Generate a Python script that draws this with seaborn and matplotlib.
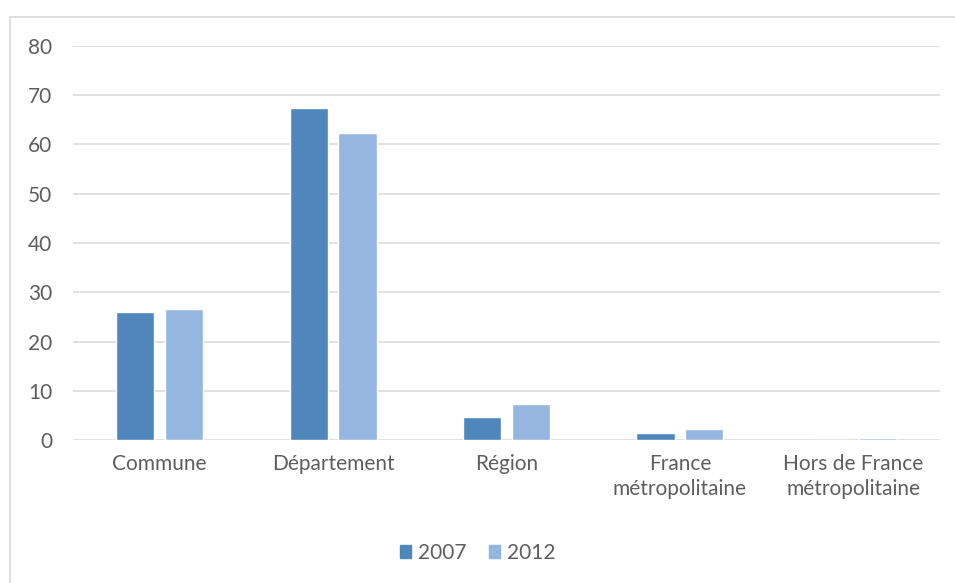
import matplotlib
matplotlib.use("Agg")
import matplotlib.pyplot as plt
from matplotlib.patches import Rectangle
import seaborn as sns
import pandas as pd

categories = ["Commune", "Département", "Région", "France\nmétropolitaine",
              "Hors de France\nmétropolitaine"]
years = ["2007", "2012"]
values_2007 = [26.0, 67.4, 4.6, 1.4, 0.0]
values_2012 = [26.6, 62.3, 7.3, 2.3, 0.4]
y_ticks = [0, 10, 20, 30, 40, 50, 60, 70, 80]

colors = {"2007": "#4F87BC", "2012": "#95B6DF"}
text_color = "#5E5E5E"
grid_color = "#D9D9D9"

df = pd.DataFrame({
    "categorie": categories * 2,
    "annee": [years[0]] * len(categories) + [years[1]] * len(categories),
    "valeur": values_2007 + values_2012,
})

sns.set_theme(style="white")
plt.rcParams["font.family"] = ["Lato", "DejaVu Sans"]

fig = plt.figure(figsize=(9.55, 5.83), dpi=100)
ax = fig.add_axes([73 / 955, 1 - 440 / 583, (940 - 73) / 955, (440 - 46) / 583])

sns.barplot(data=df, x="categorie", y="valeur", hue="annee", order=categories,
            hue_order=years, palette=colors, width=0.565, gap=0.22,
            saturation=1, ax=ax, legend=False)

ax.set_ylim(0, 80)
ax.set_xlim(-0.5, len(categories) - 0.5)
ax.set_yticks(y_ticks)
ax.yaxis.grid(True, color=grid_color, linewidth=1.1)
ax.set_axisbelow(True)
for side in ["top", "right", "left", "bottom"]:
    ax.spines[side].set_visible(False)
ax.tick_params(axis="both", length=0, colors=text_color, labelsize=15)
ax.tick_params(axis="y", pad=15)
ax.tick_params(axis="x", pad=10)
ax.set_xlabel("")
ax.set_ylabel("")
for lab in ax.get_xticklabels():
    lab.set_linespacing(1.35)

handles = [Rectangle((0, 0), 1, 1, color=colors[y]) for y in years]
fig.legend(handles, years, loc="center", bbox_to_anchor=(0.5, 1 - 553 / 583),
           ncol=2, frameon=False, fontsize=15, labelcolor=text_color,
           handlelength=0.55, handleheight=0.55, handletextpad=0.3,
           columnspacing=1.1)

# chart area frame
fig.patches.append(Rectangle((10 / 955, -0.05), 1.0, 1 - 17 / 583 + 0.05,
                             transform=fig.transFigure, fill=False,
                             edgecolor="#D9D9D9", linewidth=1.2))

fig.savefig("out.png", dpi=100, facecolor="white")
